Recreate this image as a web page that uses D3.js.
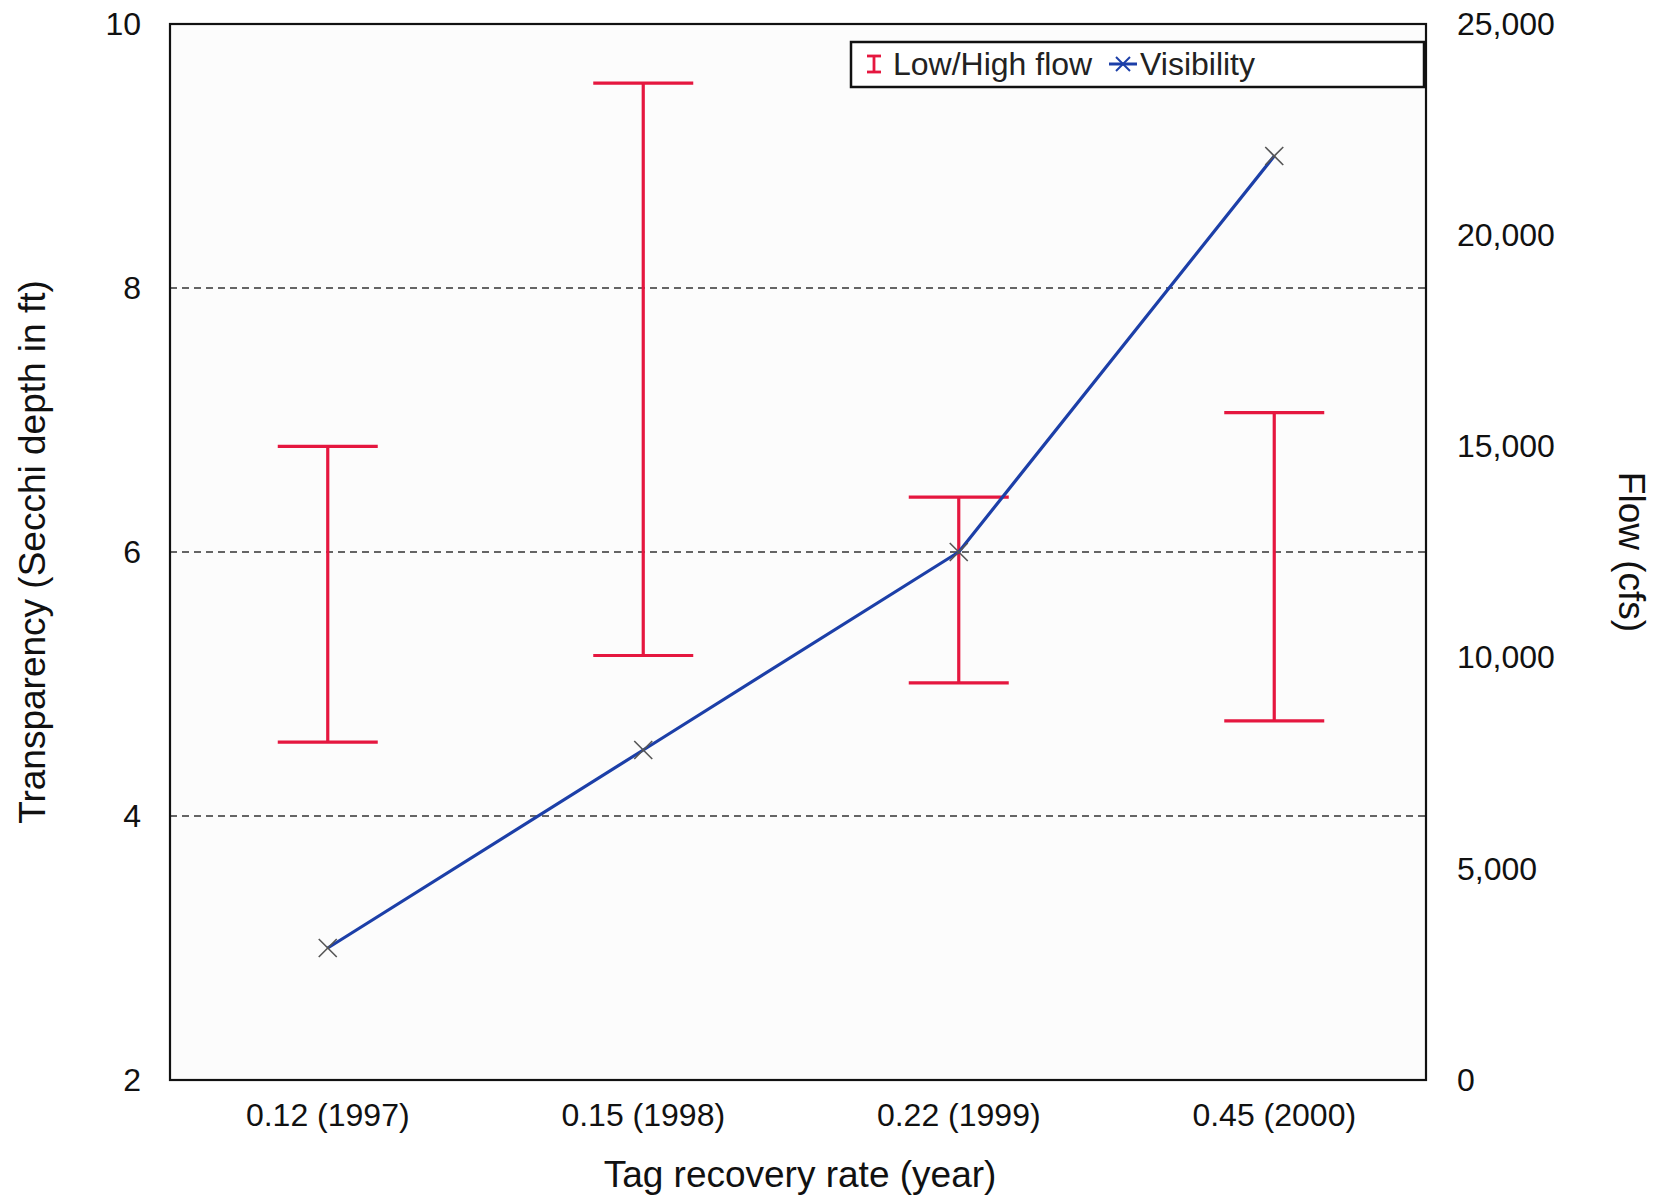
<!DOCTYPE html>
<html>
<head>
<meta charset="utf-8">
<script src="https://cdn.jsdelivr.net/npm/d3@7"></script>
<style>
  html, body { margin: 0; padding: 0; background: #fff; }
  svg { display: block; font-family: "Liberation Sans", Arial, sans-serif; }
</style>
</head>
<body>
<svg id="chart" width="1658" height="1199"></svg>
<script>
// ---- data ----
const categories = ["0.12 (1997)", "0.15 (1998)", "0.22 (1999)", "0.45 (2000)"];
const flowLow  = [8000, 10050, 9400, 8500];      // cfs, right axis
const flowHigh = [15000, 23600, 13800, 15800];   // cfs, right axis
const visibility = [3.0, 4.5, 6.0, 9.0];         // Secchi depth ft, left axis
const leftTicks = [2, 4, 6, 8, 10];
const rightTicks = [0, 5000, 10000, 15000, 20000, 25000];
const gridValues = [4, 6, 8];

// ---- layout ----
const L = 170, R = 1426, T = 24, B = 1080;
const XR = 1432; // category band extent
const svg = d3.select("#chart");

const x = d3.scaleBand().domain(categories).range([L, XR]).padding(0);
const yL = d3.scaleLinear().domain([2, 10]).range([B, T]);
const yR = d3.scaleLinear().domain([0, 25000]).range([B, T]);
const cx = d => x(d) + x.bandwidth() / 2;

// plot background
svg.append("rect").attr("x", L).attr("y", T).attr("width", R - L).attr("height", B - T)
  .attr("fill", "#fcfcfc");

// gridlines
svg.append("g").selectAll("line").data(gridValues).join("line")
  .attr("x1", L).attr("x2", R)
  .attr("y1", d => yL(d)).attr("y2", d => yL(d))
  .attr("stroke", "#333").attr("stroke-width", 1.3)
  .attr("stroke-dasharray", "7,5");

// error bars (flow)
const capHalf = 50;
const eb = svg.append("g").attr("stroke", "#e5173f").attr("stroke-width", 3.2).attr("fill", "none");
categories.forEach((c, i) => {
  const xc = cx(c);
  eb.append("line").attr("x1", xc).attr("x2", xc).attr("y1", yR(flowLow[i])).attr("y2", yR(flowHigh[i]));
  eb.append("line").attr("x1", xc - capHalf).attr("x2", xc + capHalf).attr("y1", yR(flowHigh[i])).attr("y2", yR(flowHigh[i]));
  eb.append("line").attr("x1", xc - capHalf).attr("x2", xc + capHalf).attr("y1", yR(flowLow[i])).attr("y2", yR(flowLow[i]));
});

// visibility line
const line = d3.line().x((d, i) => cx(categories[i])).y(d => yL(d));
svg.append("path").datum(visibility)
  .attr("d", line).attr("fill", "none")
  .attr("stroke", "#1c3fa8").attr("stroke-width", 3.2).attr("stroke-linejoin", "round");

// X markers
const m = 9;
const mk = svg.append("g").attr("stroke", "#555").attr("stroke-width", 1.6);
visibility.forEach((v, i) => {
  const px = cx(categories[i]), py = yL(v);
  mk.append("line").attr("x1", px - m).attr("y1", py - m).attr("x2", px + m).attr("y2", py + m);
  mk.append("line").attr("x1", px - m).attr("y1", py + m).attr("x2", px + m).attr("y2", py - m);
});

// plot border
svg.append("rect").attr("x", L).attr("y", T).attr("width", R - L).attr("height", B - T)
  .attr("fill", "none").attr("stroke", "#111").attr("stroke-width", 2.2);

// axes
const fs = 32;
const axL = svg.append("g").attr("transform", `translate(${L},0)`)
  .call(d3.axisLeft(yL).tickValues(leftTicks).tickFormat(d3.format("d")).tickSize(0).tickPadding(29));
const axR = svg.append("g").attr("transform", `translate(${R},0)`)
  .call(d3.axisRight(yR).tickValues(rightTicks).tickFormat(d3.format(",")).tickSize(0).tickPadding(31));
const axB = svg.append("g").attr("transform", `translate(0,${B})`)
  .call(d3.axisBottom(x).tickSize(0).tickPadding(23));
[axL, axR, axB].forEach(a => {
  a.select(".domain").remove();
  a.selectAll("text").attr("font-size", fs).attr("fill", "#111")
    .attr("font-family", "'Liberation Sans', Arial, sans-serif");
});

// axis titles
const tfs = 37;
svg.append("text").attr("transform", `translate(45,552) rotate(-90)`)
  .attr("text-anchor", "middle").attr("font-size", tfs).attr("fill", "#111")
  .text("Transparency (Secchi depth in ft)");
svg.append("text").attr("transform", `translate(1619,552) rotate(90)`)
  .attr("text-anchor", "middle").attr("font-size", tfs).attr("fill", "#111")
  .text("Flow (cfs)");
svg.append("text").attr("x", 800).attr("y", 1187)
  .attr("text-anchor", "middle").attr("font-size", tfs).attr("fill", "#111")
  .text("Tag recovery rate (year)");

// legend
const lg = svg.append("g");
lg.append("rect").attr("x", 851).attr("y", 42).attr("width", 573).attr("height", 45)
  .attr("fill", "#fff").attr("stroke", "#111").attr("stroke-width", 2.5);
const ly = 64;
const sym = lg.append("g").attr("stroke", "#e5173f").attr("stroke-width", 2.8);
sym.append("line").attr("x1", 874).attr("x2", 874).attr("y1", ly - 8).attr("y2", ly + 8);
sym.append("line").attr("x1", 867).attr("x2", 881).attr("y1", ly - 8).attr("y2", ly - 8);
sym.append("line").attr("x1", 867).attr("x2", 881).attr("y1", ly + 8).attr("y2", ly + 8);
lg.append("text").attr("x", 893).attr("y", ly + 11).attr("font-size", 32).attr("fill", "#222")
  .text("Low/High flow");
lg.append("line").attr("x1", 1109).attr("x2", 1137).attr("y1", ly).attr("y2", ly)
  .attr("stroke", "#1c3fa8").attr("stroke-width", 3);
const s2 = lg.append("g").attr("stroke", "#1c3fa8").attr("stroke-width", 2);
s2.append("line").attr("x1", 1116).attr("y1", ly - 7).attr("x2", 1130).attr("y2", ly + 7);
s2.append("line").attr("x1", 1116).attr("y1", ly + 7).attr("x2", 1130).attr("y2", ly - 7);
lg.append("text").attr("x", 1140).attr("y", ly + 11).attr("font-size", 32).attr("fill", "#222")
  .text("Visibility");
</script>
</body>
</html>
